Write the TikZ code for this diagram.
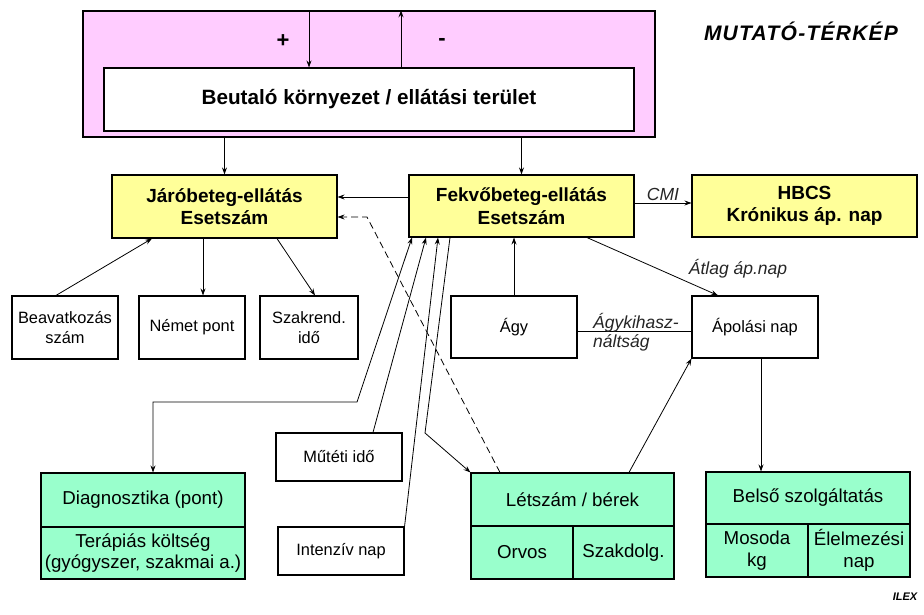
\documentclass[tikz,border=0pt]{standalone}
\usepackage{fontspec}
\setmainfont{Liberation Sans}
\usetikzlibrary{arrows.meta,calc}
\definecolor{pinkbg}{RGB}{255,204,255}
\definecolor{yel}{RGB}{255,255,153}
\definecolor{grn}{RGB}{153,255,204}
\begin{document}
\begin{tikzpicture}[x=1pt,y=-1pt,
  box/.style={draw=black, line width=1.1pt, inner sep=0pt, align=center},
  ybox/.style={box, fill=yel, font=\bfseries\fontsize{19}{22.5}\selectfont},
  wbox/.style={box, fill=white, font=\fontsize{16.4}{20}\selectfont},
  gbox/.style={box, fill=grn, font=\fontsize{18.7}{21.5}\selectfont},
  arr/.style={line width=0.8pt, -{Stealth[length=7pt,width=5pt,inset=2.5pt]}},
  darr/.style={line width=0.8pt, {Stealth[length=7pt,width=5pt,inset=2.5pt]}-{Stealth[length=7pt,width=5pt,inset=2.5pt]}},
  ln/.style={line width=0.8pt},
  lbl/.style={font=\itshape\fontsize{17.5}{19.5}\selectfont, text=black!85, inner sep=1pt}
]
\useasboundingbox (0,0) rectangle (924,615);
\fill[white] (0,0) rectangle (924,615);

% top block
\node[box, fill=pinkbg, minimum width=572pt, minimum height=126pt] (pink) at (369,74) {};
\node[box, fill=white, minimum width=530pt, minimum height=63pt, font=\bfseries\fontsize{20.7}{24}\selectfont] (beut) at (369,99.5) {Beutaló környezet / ellátási terület};
\node[font=\bfseries\fontsize{22}{24}\selectfont] (plus) at (283,41) {+};
\node[font=\bfseries\fontsize{22}{24}\selectfont] (minus) at (442,42) {-};
\node[font=\bfseries\itshape\fontsize{21}{24}\selectfont] (title) at (801,31) {\addfontfeatures{LetterSpace=6}MUTATÓ-TÉRKÉP};

% yellow row
\node[ybox, minimum width=225pt, minimum height=63pt] (jaro) at (224.5,206.5) {Járóbeteg-ellátás\\Esetszám};
\node[ybox, minimum width=225pt, minimum height=62pt] (fekvo) at (521.5,206) {Fekvőbeteg-ellátás\\Esetszám};
\node[ybox, minimum width=225pt, minimum height=62pt] (hbcs) at (804.5,206) {HBCS\\Krónikus áp. nap};

% white row
\node[wbox, minimum width=106pt, minimum height=63pt] (beav) at (65,327.5) {Beavatkozás\\szám};
\node[wbox, minimum width=106pt, minimum height=63pt] (nemet) at (192,327.5) {Német pont};
\node[wbox, minimum width=98pt, minimum height=63pt] (szak) at (309,327.5) {Szakrend.\\idő};
\node[wbox, minimum width=126pt, minimum height=62pt] (agy) at (514,327) {Ágy};
\node[wbox, minimum width=126pt, minimum height=62pt] (apol) at (755,327) {Ápolási nap};
\node[wbox, minimum width=126pt, minimum height=48pt] (mut) at (339,457) {Műtéti idő};
\node[wbox, minimum width=126pt, minimum height=48pt] (int) at (341,551) {Intenzív nap};

% green boxes
\node[gbox, minimum width=204pt, minimum height=54pt] (diag) at (143,500) {Diagnosztika (pont)};
\node[gbox, minimum width=204pt, minimum height=52pt] (ter) at (143,553) {Terápiás költség\\(gyógyszer, szakmai a.)};
\node[gbox, minimum width=203pt, minimum height=53pt] (lets) at (572.5,499.5) {Létszám / bérek};
\node[gbox, minimum width=102pt, minimum height=53pt] (orv) at (522,552.5) {Orvos};
\node[gbox, minimum width=101pt, minimum height=53pt] (szd) at (623.5,552.5) {Szakdolg.};
\node[gbox, minimum width=204pt, minimum height=52pt] (belso) at (808,498) {Belső szolgáltatás};
\node[gbox, minimum width=102pt, minimum height=53pt] (mos) at (757,550.5) {Mosoda\\kg};
\node[gbox, minimum width=102pt, minimum height=53pt] (elm) at (859,550.5) {Élelmezési\\nap};

\node[font=\bfseries\itshape\fontsize{11}{12}\selectfont] (ilex) at (905,597) {ILEX};

% helper coordinates
\coordinate (xp) at (309,0);
\coordinate (xm) at (401,0);
\coordinate (y197) at (0,197);
\coordinate (dk) at (367,217);
\coordinate (xd) at (500,0);
\coordinate (y203) at (0,203);
\coordinate (b1) at (56,0);
\coordinate (j1) at (152,0);
\coordinate (j2) at (203,0);
\coordinate (j3) at (277,0);
\coordinate (s1) at (315,0);
\coordinate (y331) at (0,331);
\coordinate (f1) at (587,0);
\coordinate (a1) at (718,0);
\coordinate (a2) at (761,0);
\coordinate (l1) at (629,0);
\coordinate (fa) at (412,0);
\coordinate (ka1) at (357,402);
\coordinate (ka2) at (153,402);
\coordinate (m1) at (373,0);
\coordinate (fm) at (426,0);
\coordinate (fi) at (438,0);
\coordinate (fl) at (450,0);
\coordinate (kl) at (425,433);

% connectors
\draw[arr] (pink.north -| xp) -- (beut.north -| xp);
\draw[arr] (beut.north -| xm) -- (pink.north -| xm);
\draw[arr] (pink.south -| jaro.north) -- (jaro.north);
\draw[arr] (pink.south -| fekvo.north) -- (fekvo.north);
\draw[arr] (fekvo.west |- y197) -- (jaro.east |- y197);
\draw[arr, dashed, dash pattern=on 7pt off 4pt] (lets.north -| xd) -- (dk) -- (jaro.east |- dk);
\draw[arr] (fekvo.east |- y203) -- node[lbl, above=1pt] {CMI} (hbcs.west |- y203);
\draw[arr] (beav.north -| b1) -- (jaro.south -| j1);
\draw[arr] (jaro.south -| j2) -- (nemet.north -| j2);
\draw[arr] (jaro.south -| j3) -- (szak.north -| s1);
\draw[arr] (agy.north) -- (fekvo.south -| agy.north);
\draw[ln] (agy.east |- y331) -- (apol.west |- y331);
\node[lbl, anchor=west, align=left] (aglbl) at (592,332) {Ágykihasz-\\náltság};
\draw[arr] (fekvo.south -| f1) -- (apol.north -| a1);
\node[lbl] (atlag) at (738,269) {Átlag áp.nap};
\draw[arr] (apol.south -| a2) -- (belso.north -| a2);
\draw[arr] (lets.north -| l1) -- (apol.south west);
\draw[darr] (fekvo.south -| fa) -- (ka1) -- (ka2) -- (diag.north -| ka2);
\draw[arr] (mut.north -| m1) -- (fekvo.south -| fm);
\draw[arr] (int.north east) -- (fekvo.south -| fi);
\draw[arr] (fekvo.south -| fl) -- (kl) -- (lets.north west);
\end{tikzpicture}
\end{document}
